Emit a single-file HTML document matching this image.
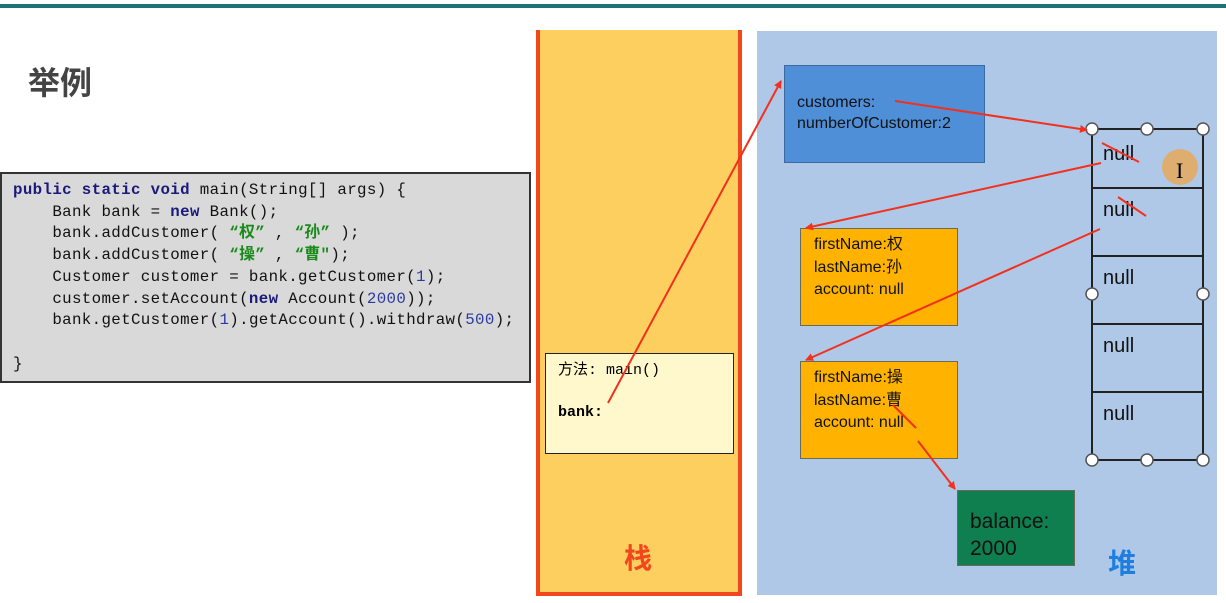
<!DOCTYPE html>
<html><head><meta charset="utf-8"><style>
body{margin:0;width:1226px;height:603px;background:#fff;position:relative;overflow:hidden;font-family:"Liberation Sans","Noto Sans CJK SC",sans-serif}
div{position:absolute;box-sizing:border-box}
.code{left:0;top:172px;width:531px;height:211px;background:#d9d9d9;border:2px solid #333;font-family:"Liberation Mono","Noto Sans CJK SC",monospace;font-size:15.8px;line-height:21.7px;padding:6px 0 0 11px;white-space:pre;color:#111;letter-spacing:0.35px}
.k{color:#1a1a7a;font-weight:bold}.n{color:#2a3aa0}.s{color:#1a8a1a;font-weight:bold}
.obj{font-size:16px;line-height:22.5px;color:#111;border:1px solid #6a6a5a}
</style></head><body>
<div style="left:0;top:4px;width:1226px;height:4px;background:#1d7478"></div>
<div style="left:28px;top:58px;font-size:32px;font-weight:bold;color:#444">举例</div>
<div class="code"><span class="k">public static void</span> main(String[] args) {
    Bank bank = <span class="k">new</span> Bank();
    bank.addCustomer( <span class="s">“权”</span> , <span class="s">“孙”</span> );
    bank.addCustomer( <span class="s">“操”</span> , <span class="s">“曹"</span>);
    Customer customer = bank.getCustomer(<span class="n">1</span>);
    customer.setAccount(<span class="k">new</span> Account(<span class="n">2000</span>));
    bank.getCustomer(<span class="n">1</span>).getAccount().withdraw(<span class="n">500</span>);

}</div>
<div style="left:536px;top:30px;width:206px;height:566px;background:#fdcf5f;border:4px solid #f2461c;border-top:none"></div>
<div style="left:545px;top:353px;width:189px;height:101px;background:#fff8cc;border:1.5px solid #222;font-family:'Liberation Mono','Noto Sans CJK SC',monospace;font-size:15px;padding:6px 0 0 12px;line-height:21px">方法: main()<br><br><b>bank:</b></div>
<div style="left:624px;top:537px;font-size:28px;font-weight:bold;color:#f2461c">栈</div>
<div style="left:757px;top:31px;width:460px;height:564px;background:#b0c8e8"></div>
<div class="obj" style="left:784px;top:65px;width:201px;height:98px;background:#4f8fd8;border-color:#3a6aa0;padding:26px 0 0 12px;font-size:16px;line-height:21px">customers:<br>numberOfCustomer:2</div>
<div class="obj" style="left:800px;top:228px;width:158px;height:98px;background:#ffb300;padding:5px 0 0 13px">firstName:权<br>lastName:孙<br>account: null</div>
<div class="obj" style="left:800px;top:361px;width:158px;height:98px;background:#ffb300;padding:5px 0 0 13px">firstName:操<br>lastName:曹<br>account: null</div>
<div class="obj" style="left:957px;top:490px;width:118px;height:76px;background:#0f7f4f;font-size:21px;line-height:27px;padding:17px 0 0 12px">balance:<br>2000</div>
<div style="left:1108px;top:542px;font-size:28px;font-weight:bold;color:#1e7fe0">堆</div>
<svg width="1226" height="603" style="position:absolute;left:0;top:0">
<defs><marker id="a" markerWidth="8" markerHeight="8" refX="7" refY="4" orient="auto" markerUnits="userSpaceOnUse"><path d="M0,0 L8,4 L0,8 z" fill="#f2301c"/></marker></defs>
<g stroke="#222" stroke-width="2" fill="none">
<rect x="1092" y="129" width="111" height="331"/>
<line x1="1092" y1="188" x2="1203" y2="188"/><line x1="1092" y1="256" x2="1203" y2="256"/>
<line x1="1092" y1="324" x2="1203" y2="324"/><line x1="1092" y1="392" x2="1203" y2="392"/>
</g>
<g font-family="Liberation Sans" font-size="20" fill="#111">
<text x="1103" y="160">null</text><text x="1103" y="216">null</text><text x="1103" y="284">null</text><text x="1103" y="352">null</text><text x="1103" y="420">null</text>
</g>
<g fill="#fff" stroke="#555" stroke-width="1.5">
<circle cx="1092" cy="129" r="6"/><circle cx="1147" cy="129" r="6"/><circle cx="1203" cy="129" r="6"/>
<circle cx="1092" cy="294" r="6"/><circle cx="1203" cy="294" r="6"/>
<circle cx="1092" cy="460" r="6"/><circle cx="1147" cy="460" r="6"/><circle cx="1203" cy="460" r="6"/>
</g>
<circle cx="1180" cy="167" r="18" fill="#e8a850" opacity="0.8"/>
<text x="1176" y="178" font-size="22" font-family="Liberation Serif">I</text>
<g stroke="#f2301c" stroke-width="2" fill="none">
<line x1="608" y1="403" x2="781" y2="81" marker-end="url(#a)"/>
<line x1="895" y1="101" x2="1087" y2="130" marker-end="url(#a)"/>
<line x1="1101" y1="163" x2="806" y2="228" marker-end="url(#a)"/>
<line x1="1100" y1="229" x2="806" y2="360" marker-end="url(#a)"/>
<line x1="918" y1="441" x2="955" y2="489" marker-end="url(#a)"/>
<line x1="1102" y1="143" x2="1139" y2="162"/>
<line x1="1118" y1="197" x2="1146" y2="216"/>
<line x1="893" y1="405" x2="916" y2="428"/>
</g>
</svg>
</body></html>
